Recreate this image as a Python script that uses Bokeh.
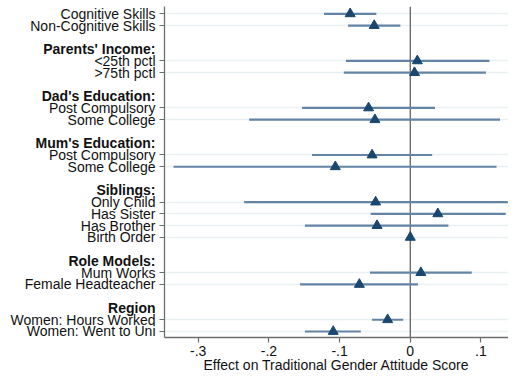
from bokeh.plotting import figure
from bokeh.layouts import row
from bokeh.models import Range1d, FixedTicker, Span, ColumnDataSource, CustomLabelingPolicy
from bokeh.core.properties import value
from bokeh.embed import file_html
from bokeh.resources import INLINE

# ---- data ----
group_headers = [None, "Parents' Income:", "Dad's Education:", "Mum's Education:",
                 "Siblings:", "Role Models:", "Region"]
group_items = [
    ["Cognitive Skills", "Non-Cognitive Skills"],
    ["<25th pctl", ">75th pctl"],
    ["Post Compulsory", "Some College"],
    ["Post Compulsory", "Some College"],
    ["Only Child", "Has Sister", "Has Brother", "Birth Order"],
    ["Mum Works", "Female Headteacher"],
    ["Women: Hours Worked", "Women: Went to Uni"],
]
coef = [-0.085, -0.051, 0.010, 0.006, -0.059, -0.050, -0.054, -0.106,
        -0.049, 0.039, -0.047, 0.000, 0.015, -0.072, -0.032, -0.109]
ci_lo = [-0.122, -0.088, -0.091, -0.094, -0.153, -0.228, -0.139, -0.335,
         -0.235, -0.056, -0.149, -0.002, -0.057, -0.156, -0.054, -0.149]
ci_hi = [-0.048, -0.014, 0.112, 0.107, 0.035, 0.127, 0.031, 0.122,
         0.138, 0.135, 0.054, 0.002, 0.087, 0.011, -0.010, -0.070]
x_ticks = [-0.3, -0.2, -0.1, 0.0, 0.1]
x_tick_labels = ["-.3", "-.2", "-.1", "0", ".1"]
x_title = "Effect on Traditional Gender Attitude Score"

# ---- layout rows (computed from group structure) ----
rows, labels, header_rows, header_labels = [], [], [], []
r = 0
for gi, (h, items) in enumerate(zip(group_headers, group_items)):
    if gi > 0:
        r += 1  # blank row
        header_rows.append(r)
        header_labels.append(h)
        r += 1
    for it in items:
        rows.append(r)
        labels.append(it)
        r += 1

FONT = "Liberation Sans"
TXT = "#111111"
AX = "#6e6e6e"
FH = 331
EXTRA = 12  # extra px below the frame in the label panel so descenders are not clipped

y_top, y_bot = -0.62, r - 1 + 0.51
k = FH / (y_bot - y_top)
y_range = Range1d(y_bot, y_top)
lab_range = Range1d(y_bot + EXTRA / k, y_top)
x0, x1 = -0.3477, 0.139

# ---- left label panel ----
lp = figure(frame_width=156, frame_height=FH + EXTRA, output_backend="svg", toolbar_location=None,
            x_range=Range1d(0, 1), y_range=lab_range, x_axis_type=None, y_axis_type=None,
            min_border_left=0, min_border_right=0, min_border_top=6, min_border_bottom=0)
lp.outline_line_color = None
lp.grid.visible = False
lp.text(x=[1] * len(rows), y=rows, text=labels, x_offset=-1, text_align="right",
        text_baseline="middle", text_font=value(FONT), text_font_size=value("14px"),
        text_color=TXT)
lp.text(x=[1] * len(header_rows), y=header_rows, text=header_labels, x_offset=-1,
        text_align="right", text_baseline="middle", text_font=value(FONT),
        text_font_size=value("14px"), text_font_style="bold", text_color=TXT)

# ---- main plot ----
p = figure(frame_width=344, frame_height=FH, output_backend="svg", toolbar_location=None,
           x_range=Range1d(x0, x1), y_range=y_range,
           min_border_left=8, min_border_right=0, min_border_top=6, min_border_bottom=0)
p.outline_line_color = None

src = ColumnDataSource(dict(y=rows, coef=coef, lo=ci_lo, hi=ci_hi))

p.add_layout(Span(location=0, dimension="height", line_color="#555555", line_width=1.2, level="underlay"))
p.segment(x0="lo", y0="y", x1="hi", y1="y", source=src, line_color="#6384a5", line_width=2.2)
p.scatter(x="coef", y="y", source=src, marker="triangle", size=10,
          fill_color="#1a476f", line_color="#1a476f")

p.xaxis.ticker = FixedTicker(ticks=x_ticks)
p.xaxis.major_label_overrides = {t: s for t, s in zip(x_ticks, x_tick_labels)}
p.xaxis.axis_label = x_title
# y axis: ticks only (the labels live in the left panel)
p.yaxis.ticker = FixedTicker(ticks=rows)
p.yaxis.major_label_overrides = {rr: "" for rr in rows}
p.yaxis.major_label_policy = CustomLabelingPolicy(code="return new Set()")
p.yaxis.major_label_standoff = 0
for ax in (p.xaxis[0], p.yaxis[0]):
    ax.axis_line_color = AX
    ax.axis_line_width = 1.3
    ax.major_tick_line_color = AX
    ax.major_tick_line_width = 1.2
    ax.major_tick_out = 5
    ax.major_tick_in = 0
    ax.minor_tick_line_color = None
    ax.major_label_text_font = FONT
    ax.major_label_text_font_size = "14px"
    ax.major_label_text_color = TXT
    ax.axis_label_text_font = FONT
    ax.axis_label_text_font_size = "14px"
    ax.axis_label_text_font_style = "normal"
    ax.axis_label_text_color = TXT
p.xaxis.major_label_standoff = 3
p.xaxis.axis_label_standoff = -2

p.xgrid.visible = False
p.ygrid.ticker = FixedTicker(ticks=rows)
p.ygrid.grid_line_color = "#e8f0f2"
p.ygrid.grid_line_width = 1.5

layout = row(lp, p, spacing=0)
open("out.html", "w").write(file_html(layout, INLINE))
